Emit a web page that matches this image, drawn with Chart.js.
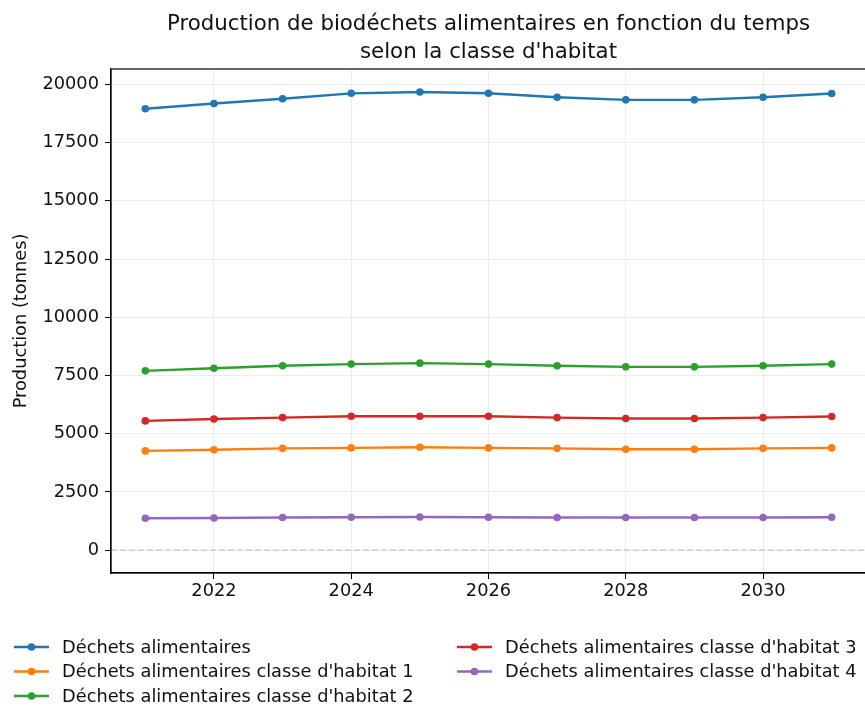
<!DOCTYPE html>
<html lang="fr">
<head>
<meta charset="UTF-8">
<script src="https://cdn.jsdelivr.net/npm/chart.js"></script>
<title>Biodéchets alimentaires</title>
<style>
    html, body { margin: 0; padding: 0; background: #fff; overflow: hidden; }
    .box { width: 870px; height: 711px; }
</style>
</head>
<body>
<div class="box">
    <canvas id="graphique" width="870" height="711"></canvas>
</div>

<script>
    // données
    var annees = [2021, 2022, 2023, 2024, 2025, 2026, 2027, 2028, 2029, 2030, 2031];
    var totalAlim = [18960, 19180, 19390, 19620, 19680, 19620, 19450, 19340, 19340, 19450, 19610];
    var habitat1 = [4260, 4310, 4370, 4390, 4420, 4390, 4370, 4330, 4330, 4370, 4390];
    var habitat2 = [7700, 7810, 7920, 7990, 8030, 7990, 7920, 7870, 7870, 7920, 7990];
    var habitat3 = [5550, 5630, 5690, 5750, 5750, 5750, 5690, 5650, 5650, 5690, 5740];
    var habitat4 = [1370, 1380, 1400, 1410, 1420, 1410, 1400, 1400, 1400, 1400, 1410];

    var xTicks = [2022, 2024, 2026, 2028, 2030];
    var yTicks = [0, 2500, 5000, 7500, 10000, 12500, 15000, 17500, 20000];

    var police = "'DejaVu Sans', sans-serif";
    var taille = 17.8; // ticks, légende, titre d'axe

    function serie(label, valeurs, couleur) {
        return {
            label: label,
            data: annees.map((a, i) => ({ x: a, y: valeurs[i] })),
            borderColor: couleur,
            backgroundColor: couleur,
            borderWidth: 2.4,
            pointRadius: 3.8,
            pointBorderWidth: 0,
            pointBackgroundColor: couleur,
            tension: 0,
            fill: false
        };
    }

    // légende sur 2 colonnes (remplie par colonne comme matplotlib)
    var legendeColonnes = {
        id: 'legendeColonnes',
        afterDraw(chart) {
            var ctx = chart.ctx;
            var items = chart.data.datasets.filter(d => !d.sansLegende);
            ctx.save();
            ctx.font = taille + "px " + police;
            ctx.textBaseline = 'middle';
            items.forEach((ds, i) => {
                var col = i < 3 ? 0 : 1;
                var ligne = i < 3 ? i : i - 3;
                var x0 = col ? 457 : 14;
                var y = 647 + ligne * 24.5;
                ctx.strokeStyle = ds.borderColor;
                ctx.lineWidth = 2.4;
                ctx.beginPath();
                ctx.moveTo(x0, y);
                ctx.lineTo(x0 + 35, y);
                ctx.stroke();
                ctx.fillStyle = ds.borderColor;
                ctx.beginPath();
                ctx.arc(x0 + 17.5, y, 3.8, 0, Math.PI * 2);
                ctx.fill();
                ctx.fillStyle = '#111';
                ctx.fillText(ds.label, x0 + 48, y + 1);
            });
            // cadre complet autour du graphique
            var a = chart.chartArea;
            ctx.strokeStyle = '#000';
            ctx.lineWidth = 1.2;
            ctx.strokeRect(a.left, a.top, a.right - a.left, a.bottom - a.top);
            ctx.restore();
        }
    };

    var contexte = document.getElementById('graphique');
    new Chart(contexte, {
        type: 'line',
        data: {
            datasets: [
                serie('Déchets alimentaires', totalAlim, '#1f77b4'),
                serie("Déchets alimentaires classe d'habitat 1", habitat1, '#ff7f0e'),
                serie("Déchets alimentaires classe d'habitat 2", habitat2, '#2ca02c'),
                serie("Déchets alimentaires classe d'habitat 3", habitat3, '#d62728'),
                serie("Déchets alimentaires classe d'habitat 4", habitat4, '#9467bd'),
                {
                    label: 'zero',
                    sansLegende: true,
                    data: [{ x: 2020.5, y: 0 }, { x: 2031.5, y: 0 }],
                    borderColor: '#c4c4c4',
                    borderWidth: 1.4,
                    borderDash: [6, 3],
                    pointRadius: 0,
                    order: 10
                }
            ]
        },
        options: {
            responsive: false,
            animation: false,
            devicePixelRatio: 1,
            layout: { padding: { left: 0, right: 4, top: 0, bottom: 98 } },
            plugins: {
                legend: { display: false },
                tooltip: { enabled: false },
                title: {
                    display: true,
                    fullSize: false,
                    text: ['Production de biodéchets alimentaires en fonction du temps', "selon la classe d'habitat"],
                    color: '#111',
                    font: { family: police, size: 21.3, weight: 'normal', lineHeight: 1.315 },
                    padding: { top: 10, bottom: 3 }
                }
            },
            scales: {
                x: {
                    type: 'linear',
                    min: 2020.5,
                    max: 2031.5,
                    afterBuildTicks: axe => { axe.ticks = xTicks.map(v => ({ value: v })); },
                    afterFit: axe => { axe.height = 40; },
                    ticks: {
                        color: '#111',
                        font: { family: police, size: taille },
                        padding: 2,
                        maxRotation: 0,
                        callback: v => String(v)
                    },
                    grid: { color: 'rgba(0,0,0,0.07)', tickColor: '#000', tickLength: 6 },
                    border: { color: '#000', width: 1.2 }
                },
                y: {
                    min: -984,
                    max: 20664,
                    afterBuildTicks: axe => { axe.ticks = yTicks.map(v => ({ value: v })); },
                    afterFit: axe => { axe.width = 111; },
                    ticks: {
                        color: '#111',
                        font: { family: police, size: taille },
                        padding: 6,
                        callback: v => String(v)
                    },
                    grid: { color: 'rgba(0,0,0,0.07)', tickColor: '#000', tickLength: 6 },
                    border: { color: '#000', width: 1.2 },
                    title: {
                        display: true,
                        text: 'Production (tonnes)',
                        color: '#111',
                        font: { family: police, size: taille },
                        padding: { top: 11, bottom: 0 }
                    }
                }
            }
        },
        plugins: [legendeColonnes]
    });
</script>
</body>
</html>
